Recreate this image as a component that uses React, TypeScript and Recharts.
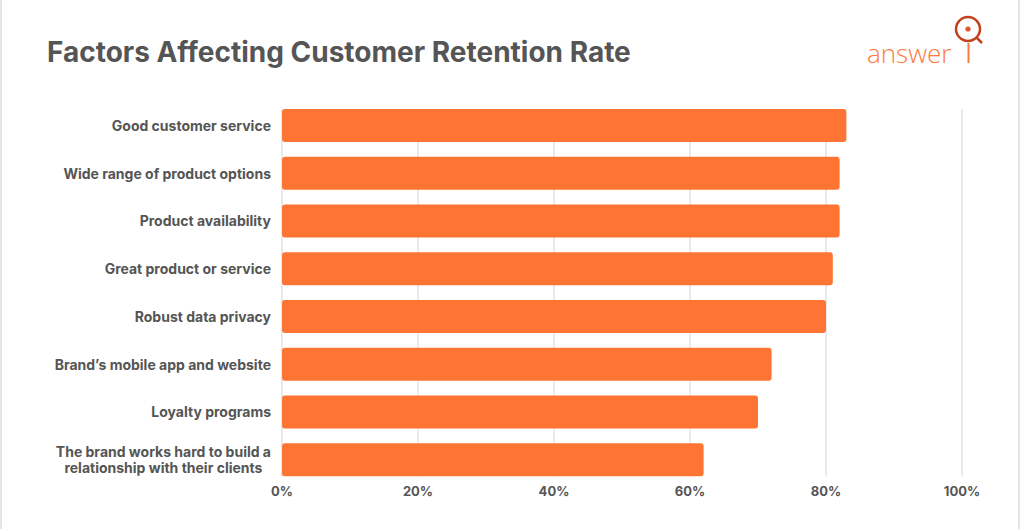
import { Bar, BarChart, CartesianGrid, XAxis, YAxis } from 'recharts';

const categories = [
  'Good customer service',
  'Wide range of product options',
  'Product availability',
  'Great product or service',
  'Robust data privacy',
  'Brand’s mobile app and website',
  'Loyalty programs',
  'The brand works hard to build a\nrelationship with their clients',
];

const retention = [83, 82, 82, 81, 80, 72, 70, 62];

const xTicks = [0, 20, 40, 60, 80, 100];

const data = categories.map((name, i) => ({ name, value: retention[i] }));

const FONT = 'Inter, "Open Sans", sans-serif';
const TEXT = '#555555';
const ORANGE = '#FE7433';

function CategoryTick(props: any) {
  const { x, y, payload } = props;
  return (
    <foreignObject x={x - 265} y={y - 22} width={262} height={44}>
      <div
        style={{
          height: '100%',
          display: 'flex',
          alignItems: 'center',
          justifyContent: 'flex-end',
          fontFamily: FONT,
          fontWeight: 700,
          fontSize: 14,
          lineHeight: '16px',
          color: TEXT,
        }}
      >
        <span style={{ whiteSpace: 'pre-line', textAlign: 'center' }}>{payload.value}</span>
      </div>
    </foreignObject>
  );
}

// grid lines only span from the first bar's top to the last bar's bottom
function GridLine(props: any) {
  const { x1, x2, y1, y2 } = props;
  return (
    <line
      key={`g-${x1}`}
      x1={x1}
      x2={x2}
      y1={y1 + 7.5}
      y2={y2 - 7.5}
      stroke="#e2e2e2"
      strokeWidth={1.5}
    />
  );
}

function Logo() {
  return (
    <svg width={140} height={80} style={{ position: 'absolute', left: 850, top: 5 }}>
      <text
        x={15}
        y={58}
        fontFamily='"Open Sans", sans-serif'
        fontWeight={300}
        fontSize={26}
        fill="#FF7A3D"
      >
        answer
      </text>
      <circle cx={116} cy={24} r={12} fill="none" stroke="#C2401C" strokeWidth={2.5} />
      <circle cx={116} cy={24} r={2.6} fill="#E5542A" />
      <line x1={125} y1={33} x2={130} y2={38} stroke="#C2401C" strokeWidth={2.5} />
      <line x1={116.5} y1={38} x2={116.5} y2={58} stroke="#FF7A3D" strokeWidth={2} />
    </svg>
  );
}

export default function App() {
  return (
    <div
      style={{
        position: 'fixed',
        left: 0,
        top: 0,
        width: 1020,
        height: 529,
        background: '#fff',
        boxSizing: 'border-box',
        borderLeft: '2px solid #e6e6e6',
        borderRight: '2px solid #e6e6e6',
      }}
    >
      <div
        style={{
          position: 'absolute',
          left: 45,
          top: 36,
          fontFamily: FONT,
          fontWeight: 700,
          fontSize: 28,
          lineHeight: '32px',
          color: TEXT,
          letterSpacing: 0,
        }}
      >
        Factors Affecting Customer Retention Rate
      </div>
      <Logo />
      <div style={{ position: 'absolute', left: -2, top: 0 }}>
        <BarChart
          width={1020}
          height={529}
          data={data}
          layout="vertical"
          margin={{ top: 102, right: 58, bottom: 15, left: 0 }}
        >
          <CartesianGrid horizontal={false} vertical={GridLine} />
          <XAxis
            type="number"
            domain={[0, 100]}
            ticks={xTicks}
            tickFormatter={(v: number) => `${v}%`}
            axisLine={false}
            tickLine={false}
            tickSize={0}
            tickMargin={3}
            height={30}
            interval={0}
            tick={{ fill: TEXT, fontSize: 13, fontWeight: 700, fontFamily: FONT }}
          />
          <YAxis
            type="category"
            dataKey="name"
            width={282}
            axisLine={false}
            tickLine={false}
            interval={0}
            tick={<CategoryTick />}
          />
          <Bar dataKey="value" fill={ORANGE} barSize={33} radius={3} isAnimationActive={false} />
        </BarChart>
      </div>
    </div>
  );
}
